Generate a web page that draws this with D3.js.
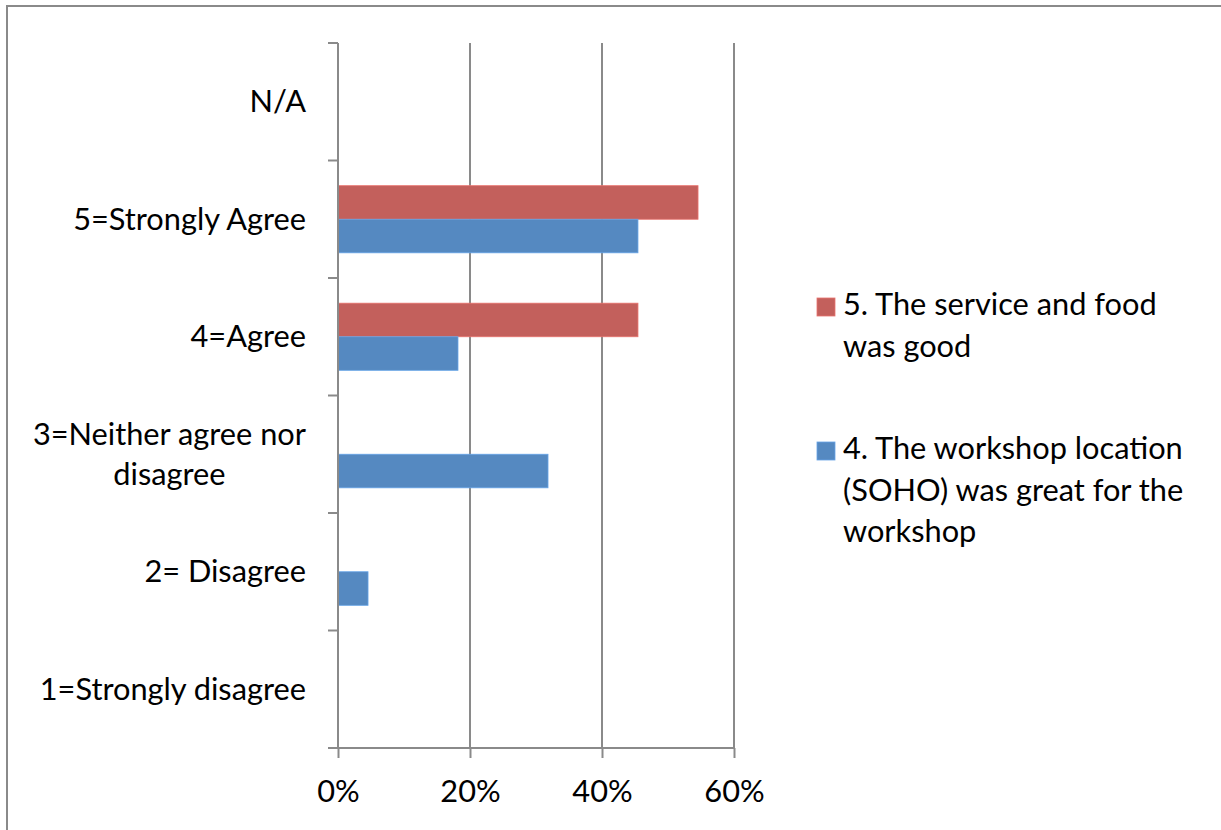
<!DOCTYPE html>
<html>
<head>
<meta charset="utf-8">
<script src="https://cdn.jsdelivr.net/npm/d3@7"></script>
<style>
  html, body { margin: 0; padding: 0; background: #fff; }
  svg { display: block; }
</style>
</head>
<body>
<svg id="chart" width="1221" height="830"></svg>
<script>
// ---- data ----
const categories = ["N/A", "5=Strongly Agree", "4=Agree", "3=Neither agree nor\ndisagree", "2= Disagree", "1=Strongly disagree"];
const seriesNames = ["5. The service and food was good", "4. The workshop location (SOHO) was great for the workshop"];
const legendLines = [["5. The service and food", "was good"], ["4. The workshop location", "(SOHO) was great for the", "workshop"]];
const serviceValues = [0, 0.5455, 0.4545, 0, 0, 0];
const locationValues = [0, 0.4545, 0.1818, 0.3182, 0.0455, 0];
const xTicks = [0, 0.2, 0.4, 0.6];
const seriesColors = ["#C3605C", "#5589C1"];

// ---- setup ----
const svg = d3.select("#chart");
const FONT = "Lato, 'Open Sans', sans-serif";

// fit font size to reference text width
const probe = svg.append("text").attr("font-family", FONT).attr("font-size", 30).text("5=Strongly Agree");
const w30 = probe.node().getComputedTextLength();
probe.remove();
const fs = 30 * 233 / w30;

svg.append("rect").attr("x", 0).attr("y", 0).attr("width", 1221).attr("height", 830).attr("fill", "#fff");
svg.append("rect").attr("x", 7).attr("y", 6).attr("width", 1240).attr("height", 850)
  .attr("fill", "none").attr("stroke", "#8a8a8a").attr("stroke-width", 2);

const plot = { left: 338, right: 734, top: 43, bottom: 748 };
const x = d3.scaleLinear().domain([0, 0.6]).range([plot.left, plot.right]);
const y = d3.scaleBand().domain(categories).range([plot.top, plot.bottom]).paddingInner(0).paddingOuter(0);
const gapRatio = 1.5; // gap width 150%
const barH = y.bandwidth() / (seriesNames.length + gapRatio);
const ySeries = d3.scaleBand().domain(seriesNames)
  .range([barH * gapRatio / 2, barH * gapRatio / 2 + barH * seriesNames.length]).padding(0);

const axisColor = "#8a8a8a";

// gridlines
svg.append("g").selectAll("line").data(xTicks.filter(d => d > 0)).join("line")
  .attr("x1", d => x(d)).attr("x2", d => x(d))
  .attr("y1", plot.top).attr("y2", plot.bottom)
  .attr("stroke", axisColor).attr("stroke-width", 2);

// bars
const seriesData = [serviceValues, locationValues];
seriesNames.forEach((name, si) => {
  svg.append("g").selectAll("rect")
    .data(categories.map((c, i) => ({ c, v: seriesData[si][i] })).filter(d => d.v > 0))
    .join("rect")
    .attr("x", x(0))
    .attr("y", d => y(d.c) + ySeries(name))
    .attr("width", d => x(d.v) - x(0))
    .attr("height", ySeries.bandwidth())
    .attr("fill", seriesColors[si])
    .attr("stroke", d3.color(seriesColors[si]).brighter(0.5))
    .attr("stroke-width", 0.8);
});

// y axis
const yAxis = d3.axisLeft(y).tickSize(10).tickFormat("");
const yG = svg.append("g").attr("transform", `translate(${plot.left},0)`).call(yAxis);
// Excel style: ticks at band boundaries
yG.selectAll(".tick").remove();
const boundaries = categories.map(c => y(c)).concat([plot.bottom]);
yG.selectAll("line.b").data(boundaries).join("line").attr("class", "b")
  .attr("x1", -10).attr("x2", 0).attr("y1", d => d).attr("y2", d => d)
  .attr("stroke", axisColor).attr("stroke-width", 2);
yG.select(".domain").attr("d", `M0,${plot.top}V${plot.bottom}`).attr("stroke", axisColor).attr("stroke-width", 2);

// y labels
const labelRight = 306;
const lineH = 39.5;
categories.forEach(c => {
  const lines = c.split("\n");
  const center = y(c) + y.bandwidth() / 2;
  const g = svg.append("g");
  const texts = lines.map((ln, i) => g.append("text")
    .attr("font-family", FONT).attr("font-size", fs).attr("fill", "#000")
    .attr("y", center + 10.5 - (lines.length - 1) * lineH / 2 + i * lineH)
    .text(ln));
  if (lines.length === 1) {
    texts[0].attr("x", labelRight).attr("text-anchor", "end");
  } else {
    const maxW = d3.max(texts, t => t.node().getComputedTextLength());
    texts.forEach(t => t.attr("x", labelRight - maxW / 2).attr("text-anchor", "middle"));
  }
});

// x axis
const xAxis = d3.axisBottom(x).tickValues(xTicks).tickSize(10).tickFormat(d3.format(".0%"));
const xG = svg.append("g").attr("transform", `translate(0,${plot.bottom})`).call(xAxis);
xG.select(".domain").attr("d", `M${plot.left - 10},0H${plot.right}`).attr("stroke", axisColor).attr("stroke-width", 2);
xG.selectAll(".tick line").attr("stroke", axisColor).attr("stroke-width", 2);
xG.selectAll(".tick text").attr("font-family", FONT).attr("font-size", fs).attr("fill", "#000")
  .attr("y", 0).attr("dy", 0).attr("transform", "translate(0,54)");

// legend
const legendX = 817, textX = 843;
const legendTop = [298, 442];
const legendBase = [315, 459];
const legendLH = 41.5;
seriesNames.forEach((name, si) => {
  const g = svg.append("g");
  g.append("rect").attr("x", legendX).attr("y", legendTop[si]).attr("width", 18).attr("height", 18)
    .attr("fill", seriesColors[si]).attr("stroke", d3.color(seriesColors[si]).brighter(0.5)).attr("stroke-width", 0.8);
  legendLines[si].forEach((ln, i) => {
    g.append("text").attr("x", textX).attr("y", legendBase[si] + i * legendLH)
      .attr("font-family", FONT).attr("font-size", fs).attr("fill", "#000").text(ln);
  });
});
</script>
</body>
</html>
